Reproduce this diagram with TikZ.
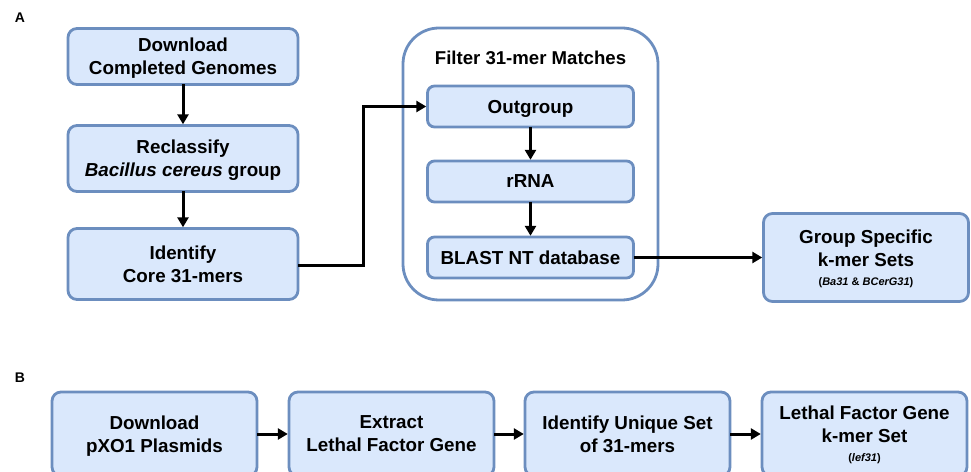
\documentclass[tikz,border=0pt]{standalone}
\usepackage{fontspec}
\setmainfont{Liberation Sans}
\usepackage{xcolor}
\usepackage{tikz}
\usetikzlibrary{positioning, arrows.meta}

\definecolor{boxfill}{HTML}{DAE8FC}
\definecolor{boxline}{HTML}{6C8EBF}

\begin{document}
\begin{tikzpicture}[x=1pt, y=1pt,
    stage/.style={rectangle, rounded corners=9pt, draw=boxline, line width=2.8pt, fill=boxfill, minimum width=230pt, outer sep=0pt, text depth=0pt, align=center, font=\fontsize{18.8}{23}\selectfont\bfseries},
    filterbox/.style={stage, minimum width=206pt, minimum height=41pt, rounded corners=7pt},
    container/.style={rectangle, rounded corners=36pt, draw=boxline, line width=2.8pt, fill=white, minimum width=255pt, minimum height=272pt, outer sep=0pt},
    panel/.style={font=\fontsize{14}{16}\selectfont\bfseries, inner sep=0pt},
    arrow/.style={-{Triangle[length=10pt, width=11pt]}, line width=3pt, black, shorten >=1.2pt},
]
\useasboundingbox (0,0) rectangle (971,471);

% Panel A
\node[panel] (labA) at (20,453) {A};
\node[stage, minimum height=56pt] (a1) at (183,414.5) {Download\\Completed Genomes};
\node[stage, minimum height=66pt, below=41pt of a1] (a2) {Reclassify\\\textit{Bacillus cereus} group};
\node[stage, minimum height=71pt, below=37pt of a2] (a3) {Identify\\Core 31-mers};

% Filter block
\node[container] (grp) at (530.5,307) {};
\node[font=\fontsize{18.6}{21}\selectfont\bfseries, inner sep=0pt, below=23pt of grp.north] (grptitle) {Filter 31-mer Matches};
\node[filterbox] (out) at (530.5,364.5) {Outgroup};
\node[filterbox, below=34pt of out] (rrna) {rRNA};
\node[filterbox, below=35pt of rrna] (blast) {BLAST NT database};

% Result
\node[stage, minimum width=205pt, minimum height=88pt, right=130pt of blast] (gs) {Group Specific\\k-mer Sets\\[-4pt]{\fontsize{11}{13}\selectfont(\textit{Ba31} \& \textit{BCerG31})}};

\draw[arrow] (a1) -- (a2);
\draw[arrow] (a2) -- (a3);
\draw[arrow] (a3.east) ++(0,-2pt) -- ++(65pt,0) |- (out.west);
\draw[arrow] (out) -- (rrna);
\draw[arrow] (rrna) -- (blast);
\draw[arrow] (blast) -- (gs);

% Panel B
\node[panel] (labB) at (20,93) {B};
\node[stage, minimum width=205pt, minimum height=84pt] (b1) at (154.5,37) {Download\\pXO1 Plasmids};
\node[stage, minimum width=205pt, minimum height=84pt, right=32pt of b1] (b2) {Extract\\Lethal Factor Gene};
\node[stage, minimum width=205pt, minimum height=84pt, right=31pt of b2] (b3) {Identify Unique Set\\of 31-mers};
\node[stage, minimum width=205pt, minimum height=84pt, right=32pt of b3] (b4) {Lethal Factor Gene\\k-mer Set\\[-4pt]{\fontsize{11}{13}\selectfont(\textit{lef31})}};

\draw[arrow] (b1) -- (b2);
\draw[arrow] (b2) -- (b3);
\draw[arrow] (b3) -- (b4);
\end{tikzpicture}
\end{document}
